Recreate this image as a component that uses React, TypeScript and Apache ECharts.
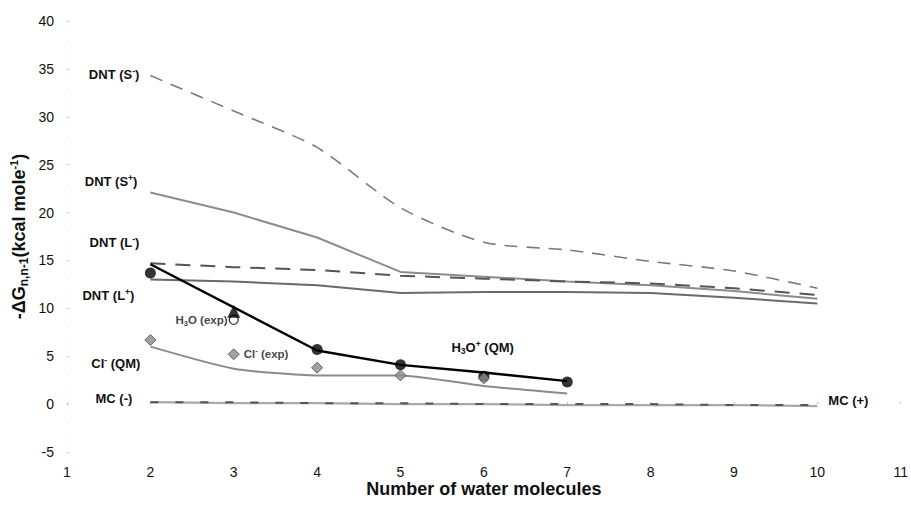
import React, { useEffect, useRef } from "react";
import * as echarts from "echarts";

// ---- data ----
const waterCounts = [2, 3, 4, 5, 6, 7, 8, 9, 10];
const dntSMinus = [34.3, 30.6, 26.8, 20.5, 16.9, 16.1, 14.9, 13.9, 12.1];
const dntSPlus = [22.1, 20.0, 17.4, 13.8, 13.3, 12.8, 12.4, 11.8, 11.0];
const dntLMinus = [14.7, 14.3, 14.0, 13.4, 13.1, 12.8, 12.6, 12.1, 11.4];
const dntLPlus = [13.0, 12.8, 12.4, 11.6, 11.7, 11.7, 11.6, 11.1, 10.5];
const mcMinus = [0.2, 0.2, 0.1, 0.1, 0.0, 0.0, 0.0, -0.1, -0.1];
const mcPlus = [0.2, 0.1, 0.1, 0.0, 0.0, -0.1, -0.1, -0.1, -0.2];

const qmCounts = [2, 3, 4, 5, 6, 7];
const clQM = [6.0, 3.7, 3.0, 3.0, 1.9, 1.1];

const h3oCounts = [2, 4, 5, 6, 7];
const h3oQMLine = [14.6, 5.6, 4.1, 3.3, 2.4];
const h3oQMPoints = [13.7, 5.7, 4.1, 2.9, 2.3];

const h3oExpCount = [3];
const h3oExpTriangle = [9.7];
const h3oExpCircle = [8.8];

const clExpCounts = [2, 3, 4, 5, 6];
const clExp = [6.7, 5.2, 3.8, 3.0, 2.7];

const xTicks = { min: 1, max: 11, interval: 1 };
const yTicks = { min: -5, max: 40, interval: 5 };

const FONT = "'Liberation Sans', Arial, sans-serif";

const rich = {
  b: { fontFamily: FONT, fontWeight: "bold", fontSize: 13, color: "#111", lineHeight: 16 },
  sup: { fontFamily: FONT, fontWeight: "bold", fontSize: 8.5, color: "#111", lineHeight: 9, verticalAlign: "top" },
  sub: { fontFamily: FONT, fontWeight: "bold", fontSize: 8.5, color: "#111", lineHeight: 9, verticalAlign: "bottom" },
  r: { fontFamily: FONT, fontWeight: "bold", fontSize: 11.5, color: "#111", lineHeight: 15 },
  rsup: { fontFamily: FONT, fontWeight: "bold", fontSize: 7.5, color: "#111", lineHeight: 8, verticalAlign: "top" },
  rsub: { fontFamily: FONT, fontWeight: "bold", fontSize: 7.5, color: "#111", lineHeight: 8, verticalAlign: "bottom" },
};

const zip = (xs: number[], ys: number[]) => xs.map((x, i) => [x, ys[i]]);

function withLabel(
  pts: number[][],
  idx: number,
  text: string,
  position: string,
  distance: number,
  offset: number[]
) {
  return pts.map((p, i) =>
    i === idx
      ? {
          value: p,
          label: { show: true, position, distance, offset, formatter: text, rich },
        }
      : { value: p }
  );
}

function lineSeries(name: string, data: any[], color: string, width: number, dash: any, smooth: any = false, z = 2) {
  return {
    name,
    type: "line",
    data,
    smooth,
    symbol: "circle",
    symbolSize: 0.01,
    showSymbol: true,
    itemStyle: { color },
    lineStyle: { color, width, type: dash },
    z,
    label: { show: false },
  };
}

export default function App() {
  const ref = useRef<HTMLDivElement>(null);
  useEffect(() => {
    if (!ref.current) return;
    const chart = echarts.init(ref.current, undefined, { renderer: "svg" });
    const option = {
      animation: false,
      backgroundColor: "#fff",
      grid: { left: 67, right: 6, top: 21, bottom: 59, containLabel: false },
      xAxis: {
        type: "value",
        min: xTicks.min,
        max: xTicks.max,
        interval: xTicks.interval,
        name: "Number of water molecules",
        nameLocation: "middle",
        nameGap: 28,
        nameMoveOverlap: false,
        nameTextStyle: { fontFamily: FONT, fontWeight: "bold", fontSize: 18, color: "#111" },
        axisLine: { show: false },
        axisTick: { show: true, length: 2, inside: true, lineStyle: { color: "#bbb" } },
        splitLine: { show: false },
        axisLabel: { fontFamily: FONT, fontSize: 14, color: "#111", margin: 13 },
      },
      yAxis: {
        type: "value",
        min: yTicks.min,
        max: yTicks.max,
        interval: yTicks.interval,
        name: "{t|-ΔG}{ts|n,n-1}{t|(kcal mole}{tp|-1}{t|)}",
        nameLocation: "middle",
        nameRotate: 90,
        nameGap: 37,
        nameMoveOverlap: false,
        nameTextStyle: {
          rich: {
            t: { fontFamily: FONT, fontWeight: "bold", fontSize: 18, color: "#111", lineHeight: 22 },
            ts: { fontFamily: FONT, fontWeight: "bold", fontSize: 12, color: "#111", lineHeight: 12, verticalAlign: "bottom" },
            tp: { fontFamily: FONT, fontWeight: "bold", fontSize: 11, color: "#111", lineHeight: 12, verticalAlign: "top" },
          },
        },
        axisLine: { show: false },
        axisTick: { show: true, length: 2, inside: true, lineStyle: { color: "#ccc" } },
        minorTick: { show: true, splitNumber: 5, length: 1, lineStyle: { color: "#ddd" } },
        splitLine: { show: false },
        axisLabel: { fontFamily: FONT, fontSize: 14, color: "#111", margin: 13 },
      },
      series: [
        lineSeries(
          "DNT (S-)",
          withLabel(zip(waterCounts, dntSMinus), 0, "{b|DNT (S}{sup|-}{b|)}", "left", 11, [0, -1]),
          "#7a7a7a",
          1.6,
          [13, 9],
          0.25
        ),
        lineSeries(
          "DNT (S+)",
          withLabel(zip(waterCounts, dntSPlus), 0, "{b|DNT (S}{sup|+}{b|)}", "left", 13, [0, -11]),
          "#8c8c8c",
          2
        ),
        lineSeries(
          "DNT (L-)",
          withLabel(zip(waterCounts, dntLMinus), 0, "{b|DNT (L}{sup|-}{b|)}", "left", 11, [0, -21]),
          "#555",
          2,
          [15, 10]
        ),
        lineSeries(
          "DNT (L+)",
          withLabel(zip(waterCounts, dntLPlus), 0, "{b|DNT (L}{sup|+}{b|)}", "left", 16, [0, 16]),
          "#6a6a6a",
          2
        ),
        lineSeries(
          "MC (+)",
          withLabel(zip(waterCounts, mcPlus), mcPlus.length - 1, "{b|MC (+)}", "right", 11, [0, -6]),
          "#a8a8a8",
          2.2
        ),
        lineSeries(
          "MC (-)",
          withLabel(zip(waterCounts, mcMinus), 0, "{b|MC (-)}", "left", 18, [0, -4]),
          "#555",
          2,
          [8, 17],
          false,
          3
        ),
        lineSeries(
          "Cl- (QM)",
          withLabel(zip(qmCounts, clQM), 0, "{b|Cl}{sup|-}{b| (QM)}", "left", 10, [0, 17]),
          "#8a8a8a",
          2,
          "solid",
          0.2
        ),
        lineSeries(
          "H3O+ (QM)",
          withLabel(zip(h3oCounts, h3oQMLine), 2, "{b|H}{sub|3}{b|O}{sup|+}{b| (QM)}", "right", 51, [0, -17]),
          "#000",
          2.4,
          "solid",
          false,
          5
        ),
        {
          name: "H3O+ (QM) points",
          type: "scatter",
          data: zip(h3oCounts, h3oQMPoints),
          symbol: "circle",
          symbolSize: 11,
          itemStyle: { color: "#000" },
          z: 6,
        },
        {
          name: "Cl- (exp)",
          type: "scatter",
          data: withLabel(zip(clExpCounts, clExp), 1, "{r|Cl}{rsup|-}{r| (exp)}", "right", 4, [0, 0]),
          symbol: "diamond",
          symbolSize: 11,
          itemStyle: { color: "#8a8a8a", borderColor: "#4a4a4a", borderWidth: 1 },
          z: 6,
        },
        {
          name: "H3O (exp) triangle",
          type: "scatter",
          data: zip(h3oExpCount, h3oExpTriangle),
          symbol: "triangle",
          symbolSize: 13,
          itemStyle: { color: "#000" },
          z: 8,
        },
        {
          name: "H3O (exp)",
          type: "scatter",
          data: withLabel(zip(h3oExpCount, h3oExpCircle), 0, "{r|H}{rsub|3}{r|O (exp)}", "left", 1, [0, 0]),
          symbol: "circle",
          symbolSize: 9,
          itemStyle: { color: "#fff", borderColor: "#000", borderWidth: 1.3 },
          z: 7,
        },
      ],
    };
    chart.setOption(option as any);
    return () => chart.dispose();
  }, []);
  return (
    <div
      ref={ref}
      style={{ position: "fixed", left: 0, top: 0, width: 911, height: 511, background: "#fff" }}
    />
  );
}
